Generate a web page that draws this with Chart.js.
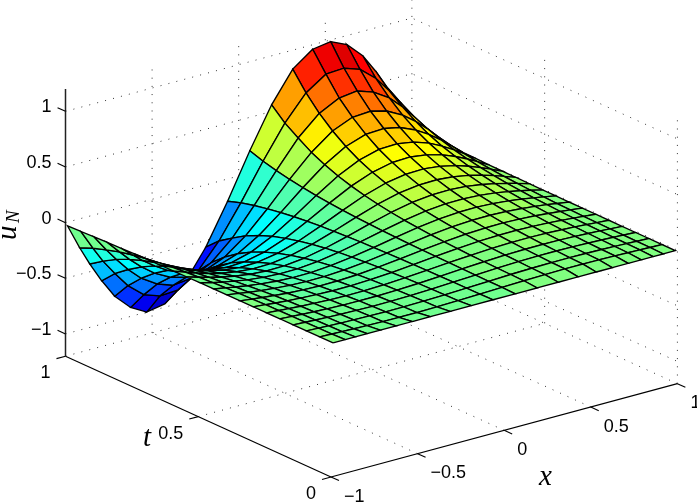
<!DOCTYPE html>
<html>
<head>
<meta charset="utf-8">
<style>
  html, body { margin: 0; padding: 0; background: #fff; }
  canvas { display: block; }
</style>
<script src="https://cdn.jsdelivr.net/npm/chart.js@4"></script>
</head>
<body>
<canvas id="surf" width="697" height="502"></canvas>
<script>
// grid
const xNodes = [-0.988, -0.918, -0.86, -0.791, -0.716, -0.624, -0.531, -0.427, -0.312, -0.19, -0.064,
  0.064, 0.19, 0.312, 0.427, 0.531, 0.624, 0.716, 0.791, 0.86, 0.918, 0.988];
const tNodes = [0, 0.05, 0.1, 0.15, 0.2, 0.25, 0.3, 0.35, 0.4, 0.45, 0.5,
  0.55, 0.6, 0.65, 0.7, 0.75, 0.8, 0.85, 0.9, 0.95, 1];

// one row per t, t = 0 first
const uRows = [
  [0, 0, 0, 0, 0, 0, 0, 0, 0, 0, 0, 0, 0, 0, 0, 0, 0, 0, 0, 0, 0, 0],
  [-0.001, -0.004, -0.007, -0.01, -0.013, -0.016, -0.017, -0.017, -0.014, -0.01, -0.003, 0.003, 0.01, 0.014, 0.017, 0.017, 0.016, 0.013, 0.01, 0.007, 0.004, 0.001],
  [-0.001, -0.005, -0.009, -0.013, -0.016, -0.019, -0.021, -0.02, -0.017, -0.012, -0.004, 0.004, 0.012, 0.017, 0.02, 0.021, 0.019, 0.016, 0.013, 0.009, 0.005, 0.001],
  [-0.001, -0.007, -0.011, -0.016, -0.02, -0.024, -0.026, -0.025, -0.022, -0.015, -0.005, 0.005, 0.015, 0.022, 0.025, 0.026, 0.024, 0.02, 0.016, 0.011, 0.007, 0.001],
  [-0.001, -0.008, -0.014, -0.02, -0.025, -0.03, -0.032, -0.031, -0.027, -0.018, -0.006, 0.006, 0.018, 0.027, 0.031, 0.032, 0.03, 0.025, 0.02, 0.014, 0.008, 0.001],
  [-0.002, -0.01, -0.017, -0.025, -0.031, -0.037, -0.04, -0.039, -0.033, -0.022, -0.008, 0.008, 0.022, 0.033, 0.039, 0.04, 0.037, 0.031, 0.025, 0.017, 0.01, 0.002],
  [-0.002, -0.012, -0.021, -0.03, -0.038, -0.045, -0.049, -0.048, -0.041, -0.028, -0.01, 0.01, 0.028, 0.041, 0.048, 0.049, 0.045, 0.038, 0.03, 0.021, 0.012, 0.002],
  [-0.002, -0.016, -0.026, -0.037, -0.048, -0.056, -0.061, -0.059, -0.051, -0.034, -0.012, 0.012, 0.034, 0.051, 0.059, 0.061, 0.056, 0.048, 0.037, 0.026, 0.016, 0.002],
  [-0.003, -0.019, -0.033, -0.047, -0.059, -0.07, -0.076, -0.074, -0.063, -0.043, -0.015, 0.015, 0.043, 0.063, 0.074, 0.076, 0.07, 0.059, 0.047, 0.033, 0.019, 0.003],
  [-0.004, -0.024, -0.04, -0.058, -0.073, -0.087, -0.094, -0.092, -0.078, -0.053, -0.019, 0.019, 0.053, 0.078, 0.092, 0.094, 0.087, 0.073, 0.058, 0.04, 0.024, 0.004],
  [-0.004, -0.03, -0.05, -0.071, -0.091, -0.107, -0.115, -0.113, -0.096, -0.065, -0.023, 0.023, 0.065, 0.096, 0.113, 0.115, 0.107, 0.091, 0.071, 0.05, 0.03, 0.004],
  [-0.005, -0.037, -0.062, -0.088, -0.112, -0.133, -0.143, -0.14, -0.12, -0.081, -0.029, 0.029, 0.081, 0.12, 0.14, 0.143, 0.133, 0.112, 0.088, 0.062, 0.037, 0.005],
  [-0.007, -0.046, -0.077, -0.11, -0.14, -0.165, -0.178, -0.174, -0.149, -0.101, -0.036, 0.036, 0.101, 0.149, 0.174, 0.178, 0.165, 0.14, 0.11, 0.077, 0.046, 0.007],
  [-0.008, -0.057, -0.095, -0.136, -0.173, -0.205, -0.221, -0.216, -0.184, -0.125, -0.044, 0.044, 0.125, 0.184, 0.216, 0.221, 0.205, 0.173, 0.136, 0.095, 0.057, 0.008],
  [-0.01, -0.07, -0.118, -0.169, -0.215, -0.254, -0.274, -0.268, -0.228, -0.155, -0.055, 0.055, 0.155, 0.228, 0.268, 0.274, 0.254, 0.215, 0.169, 0.118, 0.07, 0.01],
  [-0.013, -0.087, -0.146, -0.208, -0.266, -0.314, -0.338, -0.331, -0.282, -0.191, -0.068, 0.068, 0.191, 0.282, 0.331, 0.338, 0.314, 0.266, 0.208, 0.146, 0.087, 0.013],
  [-0.016, -0.108, -0.182, -0.259, -0.33, -0.391, -0.421, -0.412, -0.351, -0.238, -0.085, 0.085, 0.238, 0.351, 0.412, 0.421, 0.391, 0.33, 0.259, 0.182, 0.108, 0.016],
  [-0.02, -0.134, -0.226, -0.322, -0.41, -0.485, -0.522, -0.511, -0.436, -0.295, -0.105, 0.105, 0.295, 0.436, 0.511, 0.522, 0.485, 0.41, 0.322, 0.226, 0.134, 0.02],
  [-0.025, -0.17, -0.28, -0.4, -0.51, -0.6, -0.65, -0.63, -0.54, -0.37, -0.13, 0.13, 0.37, 0.54, 0.63, 0.65, 0.6, 0.51, 0.4, 0.28, 0.17, 0.025],
  [-0.03, -0.21, -0.35, -0.49, -0.63, -0.75, -0.8, -0.79, -0.67, -0.45, -0.16, 0.16, 0.45, 0.67, 0.79, 0.8, 0.75, 0.63, 0.49, 0.35, 0.21, 0.03],
  [-0.035, -0.26, -0.43, -0.61, -0.78, -0.92, -1, -0.97, -0.83, -0.56, -0.2, 0.2, 0.56, 0.83, 0.96, 0.985, 0.92, 0.78, 0.61, 0.43, 0.26, 0.035]
];

const xTicks = [-1, -0.5, 0, 0.5, 1];
const tTicks = [0, 0.5, 1];
const zTicks = [-1, -0.5, 0, 0.5, 1];
const xTickLabels = ['\u22121', '\u22120.5', '0', '0.5', '1'];
const tTickLabels = ['0', '0.5', '1'];
const zTickLabels = ['\u22121', '\u22120.5', '0', '0.5', '1'];

const zLim = 1.2;
const colorMin = -1.165;
const colorMax = 1.235;

// orthographic view, MATLAB style axes
function project(x, t, z) {
  return {
    x: 331 + 173.2 * (x + 1) - 265.5 * t,
    y: 477 - 46.65 * (x + 1) - 120.8 * t - 111.3 * (z + zLim)
  };
}

function jet(u) {
  let idx = Math.floor((u - colorMin) / (colorMax - colorMin) * 64);
  idx = Math.max(0, Math.min(63, idx));
  const v = (idx + 1) / 64;
  const c = (a) => Math.round(255 * Math.max(0, Math.min(1, a)));
  return `rgb(${c(Math.min(4 * v - 1.5, -4 * v + 4.5))},${c(Math.min(4 * v - 0.5, -4 * v + 3.5))},${c(Math.min(4 * v + 0.5, -4 * v + 2.5))})`;
}

const datasets = [];
let drawOrder = 100000;

function addLine(points, color, width, dash) {
  datasets.push({
    data: points,
    showLine: true,
    borderColor: color,
    borderWidth: width,
    borderDash: dash || [],
    pointRadius: 0,
    fill: false,
    tension: 0,
    order: drawOrder--
  });
}

// dotted walls and floor
const dots = [1, 7.2];
const dotColor = '#333';
zTicks.forEach((z) => {
  addLine([project(-1, 1, z), project(1, 1, z), project(1, 0, z)], dotColor, 1, dots);
});
[-0.5, 0, 0.5, 1].forEach((x) => {
  addLine([project(x, 1, -zLim), project(x, 1, zLim)], dotColor, 1, dots);
  addLine([project(x, 0, -zLim), project(x, 1, -zLim)], dotColor, 1, dots);
});
[0.5, 0].forEach((t) => {
  addLine([project(1, t, -zLim), project(1, t, zLim)], dotColor, 1, dots);
});
addLine([project(-1, 0.5, -zLim), project(1, 0.5, -zLim)], dotColor, 1, dots);
addLine([project(-1, 1, -zLim), project(1, 1, -zLim)], dotColor, 1, dots);

// axes and ticks
const axisColor = '#000';
addLine([project(-1, 1, -zLim), project(-1, 1, zLim)], '#222', 1.5);
addLine([project(-1, 0, -zLim), project(1, 0, -zLim)], axisColor, 1.2);
addLine([project(-1, 0, -zLim), project(-1, 1, -zLim)], axisColor, 1.2);
xTicks.forEach((x) => addLine([project(x, 0, -zLim), project(x, -0.03, -zLim)], axisColor, 1.1));
tTicks.forEach((t) => addLine([project(-1, t, -zLim), project(-1.052, t, -zLim)], axisColor, 1.1));
zTicks.forEach((z) => addLine([project(-1, 1, z), project(-1, 1.03, z)], axisColor, 1.1));

// surface, far cells first
for (let j = tNodes.length - 2; j >= 0; j--) {
  for (let i = xNodes.length - 2; i >= 0; i--) {
    const corners = [
      project(xNodes[i], tNodes[j], uRows[j][i]),
      project(xNodes[i + 1], tNodes[j], uRows[j][i + 1]),
      project(xNodes[i + 1], tNodes[j + 1], uRows[j + 1][i + 1]),
      project(xNodes[i], tNodes[j + 1], uRows[j + 1][i])
    ];
    corners.push(corners[0]);
    datasets.push({
      data: corners,
      showLine: true,
      borderColor: '#000',
      borderWidth: 1.35,
      backgroundColor: jet(uRows[j + 1][i]),
      pointRadius: 0,
      fill: 'shape',
      tension: 0,
      order: drawOrder--
    });
  }
}

const labelPlugin = {
  id: 'labels3d',
  afterDraw(chart) {
    const ctx = chart.ctx;
    const sx = chart.scales.x;
    const sy = chart.scales.y;
    const px = (p) => ({ x: sx.getPixelForValue(p.x), y: sy.getPixelForValue(p.y) });
    ctx.save();
    ctx.fillStyle = '#000';
    ctx.font = '18px "Liberation Sans"';
    ctx.textAlign = 'right';
    zTicks.forEach((z, k) => {
      const p = px(project(-1, 1, z));
      ctx.fillText(zTickLabels[k], p.x - 14, p.y + 1);
    });
    tTicks.forEach((t, k) => {
      const p = px(project(-1, t, -zLim));
      ctx.fillText(tTickLabels[k], p.x - 15, p.y + 22);
    });
    ctx.textAlign = 'left';
    xTicks.forEach((x, k) => {
      const p = px(project(x, 0, -zLim));
      ctx.fillText(xTickLabels[k], p.x + 13, p.y + 24.5);
    });

    ctx.font = 'italic 29px "Liberation Serif"';
    ctx.fillText('x', 539, 485);
    ctx.fillText('t', 143, 446);

    ctx.translate(16, 240);
    ctx.rotate(-Math.PI / 2);
    ctx.fillText('u', 0, 0);
    ctx.font = 'italic 19px "Liberation Serif"';
    ctx.fillText('N', 17, 3);
    ctx.restore();
  }
};

new Chart(document.getElementById('surf').getContext('2d'), {
  type: 'scatter',
  data: { datasets },
  options: {
    responsive: false,
    animation: false,
    events: [],
    layout: { padding: 0 },
    scales: {
      x: { type: 'linear', display: false, min: 0, max: 697 },
      y: { type: 'linear', display: false, min: 0, max: 502, reverse: true }
    },
    plugins: {
      legend: { display: false },
      tooltip: { enabled: false }
    }
  },
  plugins: [labelPlugin]
});
</script>
</body>
</html>
